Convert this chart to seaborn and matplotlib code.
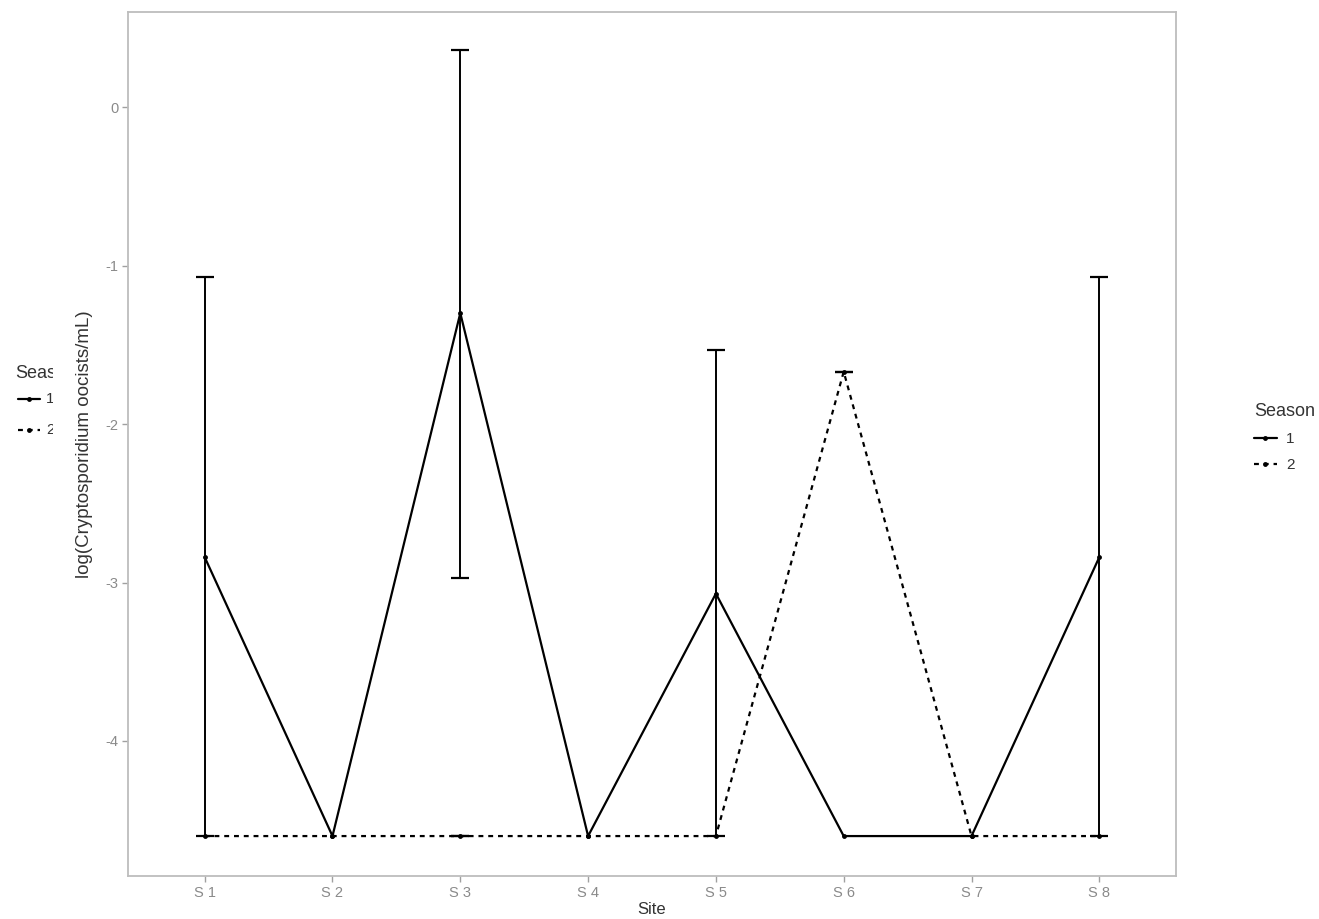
import numpy as np
import pandas as pd
import matplotlib
matplotlib.use("Agg")
import matplotlib.pyplot as plt
from matplotlib.lines import Line2D
import seaborn as sns

# Site labels and season-wise means with error bar limits (log scale)
sites = ["S 1", "S 2", "S 3", "S 4", "S 5", "S 6", "S 7", "S 8"]
season1_mean = [-2.84, -4.60, -1.30, -4.60, -3.07, -4.60, -4.60, -2.84]
season1_low = [-4.60, np.nan, -2.97, np.nan, -4.60, np.nan, np.nan, -4.60]
season1_high = [-1.07, np.nan, 0.36, np.nan, -1.53, np.nan, np.nan, -1.07]
season2_mean = [-4.60, -4.60, -4.60, -4.60, -4.60, -1.67, -4.60, -4.60]
season2_low = [np.nan, np.nan, -4.60, np.nan, np.nan, -1.67, np.nan, np.nan]
season2_high = [np.nan, np.nan, -4.60, np.nan, np.nan, -1.67, np.nan, np.nan]
season_labels = ["1", "2"]
y_ticks = [0, -1, -2, -3, -4]

pos = np.arange(1, len(sites) + 1)
df = pd.DataFrame({
    "pos": np.concatenate([pos, pos]),
    "mean": season1_mean + season2_mean,
    "low": season1_low + season2_low,
    "high": season1_high + season2_high,
    "Season": [season_labels[0]] * len(sites) + [season_labels[1]] * len(sites),
})

sns.set_theme(style="white")
plt.rcParams["font.family"] = ["Liberation Sans", "DejaVu Sans"]

fig = plt.figure(figsize=(13.19, 9.19), dpi=100)
ax = fig.add_axes([128 / 1319, 43 / 919, 1048 / 1319, 864 / 919])

dash_map = {"1": "", "2": (2.2, 2.2)}
sns.lineplot(data=df, x="pos", y="mean", style="Season", dashes=dash_map,
             color="black", linewidth=1.6, ax=ax, legend=False,
             marker="o", markersize=3.5, markeredgewidth=0, errorbar=None)

# Error bars with small caps
cap_half = 0.07
for _, row in df.iterrows():
    if np.isnan(row["low"]):
        continue
    x = row["pos"]
    ax.plot([x, x], [row["low"], row["high"]], color="black", lw=1.4,
            solid_capstyle="butt")
    for yv in (row["low"], row["high"]):
        ax.plot([x - cap_half, x + cap_half], [yv, yv], color="black", lw=1.6,
                solid_capstyle="butt")

ax.set_xlim(0.4, 8.6)
ax.set_ylim(-4.852, 0.6)
ax.set_xticks(pos)
ax.set_xticklabels(sites)
ax.set_yticks(y_ticks)
ax.set_yticklabels([str(t) if t >= 0 else "-" + str(-t) for t in y_ticks])

spine_col = "#bdbdbd"
for s in ax.spines.values():
    s.set_visible(True)
    s.set_color(spine_col)
    s.set_linewidth(1.3)
ax.tick_params(axis="both", which="both", length=4, width=1.0, color="#a0a0a0",
               labelcolor="#8a8a8a", labelsize=10.5, pad=3,
               bottom=True, left=True)
ax.set_xlabel("Site", fontsize=12, color="#333333", labelpad=2)
ax.set_ylabel("log(Cryptosporidium oocists/mL)", fontsize=13.5, color="#333333",
              labelpad=9)

# Legend on the right
handles = [
    Line2D([], [], color="black", lw=1.6, marker="o", markersize=3.5,
           markeredgewidth=0),
    Line2D([], [], color="black", lw=1.6, linestyle=(0, (2.2, 2.2)),
           marker="o", markersize=3.5, markeredgewidth=0),
]
leg = fig.legend(handles, season_labels, title="Season",
                 loc="upper left", bbox_to_anchor=(1254 / 1319, 1 - 403 / 919),
                 frameon=False, fontsize=11, title_fontsize=13,
                 handlelength=1.5, handletextpad=0.6, labelspacing=0.8,
                 borderaxespad=0, borderpad=0)
leg._legend_box.align = "left"
for t in leg.get_texts():
    t.set_color("#333333")
leg.get_title().set_color("#333333")

# Clipped legend copy at the far left edge
lax = fig.add_axes([0, 1 - 441 / 919, 53 / 1319, 90 / 919])
lax.set_xlim(0, 53)
lax.set_ylim(90, 0)
lax.axis("off")
lax.text(15, 22, "Season", fontsize=13, color="#333333", va="center",
         ha="left", clip_on=True)
lax.plot([18, 40], [48, 48], color="black", lw=1.6, clip_on=True)
lax.plot([29], [48], "o", color="black", ms=3.5, mew=0)
lax.plot([18, 40], [79, 79], color="black", lw=1.6, linestyle=(0, (2.2, 2.2)))
lax.plot([29], [79], "o", color="black", ms=3.5, mew=0)
lax.text(46, 48, "1", fontsize=11, color="#333333", va="center", ha="left",
         clip_on=True)
lax.text(46, 79, "2", fontsize=11, color="#333333", va="center", ha="left",
         clip_on=True)

fig.savefig("out.png", dpi=100)
